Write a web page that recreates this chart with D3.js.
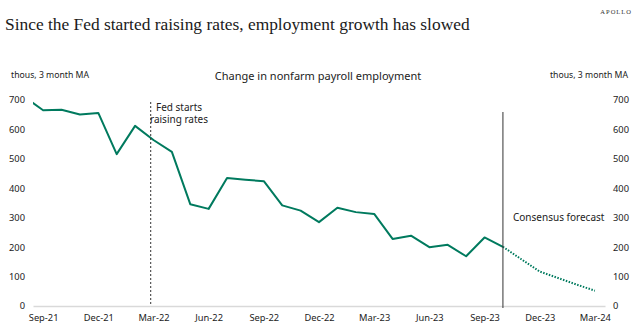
<!DOCTYPE html>
<html>
<head>
<meta charset="utf-8">
<script src="https://cdn.jsdelivr.net/npm/d3@7"></script>
<style>
  html, body { margin: 0; padding: 0; background: #fff; }
  svg { display: block; }
</style>
</head>
<body>
<div id="chart"></div>
<script>
// months on the x axis, Aug-21 sits just off the left edge and is clipped
const months = ["Aug-21", "Sep-21", "Oct-21", "Nov-21", "Dec-21", "Jan-22", "Feb-22", "Mar-22", "Apr-22",
  "May-22", "Jun-22", "Jul-22", "Aug-22", "Sep-22", "Oct-22", "Nov-22", "Dec-22", "Jan-23",
  "Feb-23", "Mar-23", "Apr-23", "May-23", "Jun-23", "Jul-23", "Aug-23", "Sep-23", "Oct-23"];
const payrolls = [710, 665, 667, 651, 656, 516, 612, 564, 524, 346, 330, 435, 429, 424, 342, 324,
  285, 334, 319, 313, 228, 239, 200, 208, 169, 233, 201];

const forecastMonths = ["Oct-23", "Nov-23", "Dec-23", "Jan-24", "Feb-24", "Mar-24"];
const forecast = [201, 159, 117, 95, 73, 52];

const tickMonths = ["Sep-21", "Dec-21", "Mar-22", "Jun-22", "Sep-22", "Dec-22", "Mar-23", "Jun-23", "Sep-23", "Dec-23", "Mar-24"];
const yTicks = [0, 100, 200, 300, 400, 500, 600, 700];

// month label -> index counted from Sep-21
const monthIndex = m => {
  const names = ["Jan","Feb","Mar","Apr","May","Jun","Jul","Aug","Sep","Oct","Nov","Dec"];
  const [mm, yy] = m.split("-");
  return (+yy - 21) * 12 + names.indexOf(mm) - 8;
};

const fedStart = 5.85;          // mid-March 2022
const forecastStart = "Oct-23";

const width = 640, height = 333;
const svg = d3.select("#chart").append("svg")
  .attr("width", width)
  .attr("height", height);

const x = d3.scaleLinear().domain([-0.55, 30.55]).range([33, 605]);
const y = d3.scaleLinear().domain([0, 700]).range([306, 100]);

const sans = "'Noto Sans', 'Open Sans', sans-serif";
const green = "#007a5e";

// title and brand
svg.append("text")
  .attr("x", 5).attr("y", 30)
  .attr("font-family", "'Liberation Serif', serif")
  .attr("font-size", 17.4)
  .attr("fill", "#1a1a1a")
  .text("Since the Fed started raising rates, employment growth has slowed");

svg.append("text")
  .attr("x", 632).attr("y", 14)
  .attr("text-anchor", "end")
  .attr("font-family", "'Liberation Serif', serif")
  .attr("font-size", 6.5)
  .attr("letter-spacing", 1)
  .attr("fill", "#333")
  .text("APOLLO");

// axis captions
svg.append("text")
  .attr("x", 11).attr("y", 78)
  .attr("font-family", sans).attr("font-size", 8.7).attr("fill", "#222")
  .text("thous, 3 month MA");
svg.append("text")
  .attr("x", 628).attr("y", 78)
  .attr("text-anchor", "end")
  .attr("font-family", sans).attr("font-size", 8.7).attr("fill", "#222")
  .text("thous, 3 month MA");
svg.append("text")
  .attr("x", 318).attr("y", 80)
  .attr("text-anchor", "middle")
  .attr("font-family", sans).attr("font-size", 11).attr("fill", "#222")
  .text("Change in nonfarm payroll employment");

// y axes on both sides, labels only
const yLeft = svg.append("g")
  .attr("transform", "translate(25,0)")
  .call(d3.axisLeft(y).tickValues(yTicks).tickSize(0).tickPadding(0));
const yRight = svg.append("g")
  .attr("transform", "translate(613,0)")
  .call(d3.axisRight(y).tickValues(yTicks).tickSize(0).tickPadding(0));
[yLeft, yRight].forEach(g => {
  g.select(".domain").remove();
  g.selectAll("text").attr("font-family", sans).attr("font-size", 9.3).attr("fill", "#222");
});

// x axis: light baseline with month labels
const xAxis = svg.append("g")
  .attr("transform", "translate(0,306)")
  .call(d3.axisBottom(x)
    .tickValues(tickMonths.map(monthIndex))
    .tickFormat((d, i) => tickMonths[i])
    .tickSize(0).tickPadding(8));
xAxis.select(".domain").attr("stroke", "#d9d9d9").attr("stroke-width", 1.5);
xAxis.selectAll("text").attr("font-family", sans).attr("font-size", 9.3).attr("fill", "#222");

// plot clip so the line starts at the axis edge
svg.append("clipPath").attr("id", "plot")
  .append("rect").attr("x", 33).attr("y", 60).attr("width", 572).attr("height", 260);

const line = d3.line()
  .x(d => x(monthIndex(d.m)))
  .y(d => y(d.v));

svg.append("path")
  .datum(months.map((m, i) => ({ m, v: payrolls[i] })))
  .attr("clip-path", "url(#plot)")
  .attr("fill", "none")
  .attr("stroke", green)
  .attr("stroke-width", 2)
  .attr("stroke-linejoin", "round")
  .attr("d", line);

svg.append("path")
  .datum(forecastMonths.map((m, i) => ({ m, v: forecast[i] })))
  .attr("fill", "none")
  .attr("stroke", green)
  .attr("stroke-width", 2)
  .attr("stroke-dasharray", "1.5,1.5")
  .attr("d", line);

// Fed hike marker
svg.append("line")
  .attr("x1", x(fedStart)).attr("x2", x(fedStart))
  .attr("y1", 102).attr("y2", y(0))
  .attr("stroke", "#333").attr("stroke-width", 1)
  .attr("stroke-dasharray", "2,2");
const fedLabel = svg.append("text")
  .attr("text-anchor", "middle")
  .attr("font-family", sans).attr("font-size", 10).attr("fill", "#222");
fedLabel.append("tspan").attr("x", 179).attr("y", 111).text("Fed starts");
fedLabel.append("tspan").attr("x", 179).attr("y", 122.5).text("raising rates");

// forecast marker
const fx = x(monthIndex(forecastStart));
svg.append("line")
  .attr("x1", fx).attr("x2", fx)
  .attr("y1", 112).attr("y2", y(0) + 2)
  .attr("stroke", "#333").attr("stroke-width", 1);
svg.append("text")
  .attr("x", 513).attr("y", 220.5)
  .attr("font-family", sans).attr("font-size", 10).attr("fill", "#222")
  .text("Consensus forecast");
</script>
</body>
</html>
